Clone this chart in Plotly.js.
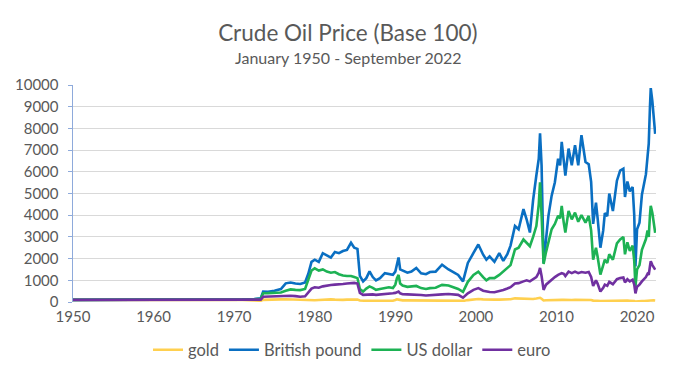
<!DOCTYPE html>
<html>
<head>
<meta charset="utf-8">
<script src="https://cdn.plot.ly/plotly-3.0.1.min.js"></script>
<style>html,body{margin:0;padding:0;background:#fff;}#chart{width:678px;height:367px;}</style>
</head>
<body>
<div id="chart"></div>
<script>
const years = [1950.0,1953.0,1957.0,1960.0,1965.0,1968.0,1971.0,1972.5,1973.3,1973.6,1974.2,1975.0,1975.8,1976.4,1977.0,1977.6,1978.2,1978.8,1979.2,1979.6,1980.0,1980.5,1981.0,1981.5,1982.0,1982.5,1983.0,1983.5,1984.0,1984.5,1984.9,1985.3,1985.6,1986.0,1986.4,1986.8,1987.2,1987.6,1988.1,1988.7,1989.2,1989.7,1990.0,1990.2,1990.4,1990.6,1990.9,1991.5,1992.0,1992.6,1993.2,1993.8,1994.3,1995.0,1995.8,1996.6,1997.2,1997.8,1998.4,1999.0,1999.7,2000.3,2000.9,2001.3,2001.7,2002.3,2002.9,2003.4,2003.9,2004.3,2004.85,2005.3,2005.9,2006.3,2006.7,2007.1,2007.5,2007.8,2007.96,2008.15,2008.4,2008.7,2009.0,2009.4,2009.8,2010.2,2010.45,2010.65,2010.9,2011.1,2011.5,2011.9,2012.3,2012.7,2013.1,2013.6,2014.0,2014.3,2014.55,2014.9,2015.1,2015.45,2015.8,2016.0,2016.3,2016.55,2017.0,2017.5,2017.9,2018.3,2018.5,2018.8,2019.1,2019.45,2019.65,2019.8,2020.0,2020.3,2020.6,2020.9,2021.1,2021.3,2021.45,2021.6,2021.7,2021.9,2022.05,2022.25];
const gold = [100,100,110,100,100,100,95,73,56,97,95,94,120,130,120,100,95,95,100,100,84,90,107,115,120,110,93,100,108,115,116,110,70,52,55,58,55,50,47,55,64,60,90,125,110,85,75,75,75,70,64,57,57,60,74,78,70,56,50,88,120,137,121,110,110,109,110,115,125,127,168,160,150,147,140,141,160,180,193,150,68,80,87,87,89,92,92,96,96,91,95,95,100,100,105,105,106,95,65,70,60,39,45,48,50,58,52,70,76,78,60,70,60,63,45,15,30,32,40,48,55,62,58,80,89,85,80,73];
const pound = [100,100,110,100,100,115,120,140,170,480,470,520,600,860,900,850,830,900,1300,1850,1950,1850,2250,2150,2050,2300,2250,2350,2400,2730,2500,2450,1200,950,1100,1410,1150,1000,1100,1330,1280,1250,1400,1800,2050,1500,1450,1350,1400,1570,1320,1280,1380,1400,1720,1500,1380,1250,950,1800,2260,2650,2180,1950,2100,1850,2250,1900,2200,2600,3500,3350,4280,3800,3200,4700,5830,6600,7770,6300,1800,3000,3970,4900,5520,6600,6300,7380,6300,5830,7070,6300,7230,6300,7690,6450,6350,5540,3600,4580,3880,2500,3300,4100,3960,5000,4190,5590,6050,6140,4840,5550,5100,5300,4000,1640,3350,3650,4940,5480,5890,6700,7300,9000,9860,9240,8500,7750];
const dollar = [100,100,110,100,100,100,110,125,150,405,410,430,440,520,580,560,550,600,1000,1450,1550,1450,1500,1400,1350,1380,1280,1220,1200,1200,1150,1100,600,480,620,720,650,560,600,640,680,640,800,1100,1250,850,760,700,720,740,640,600,640,660,790,760,680,600,470,930,1250,1400,1150,1000,1100,1100,1250,1400,1550,1700,2420,2500,2880,2700,2570,3000,3500,4500,5520,4000,1750,2300,2730,3350,3600,3970,3850,4430,3660,3200,4200,3810,4120,3700,4000,3660,3970,3300,1950,2500,2100,1260,1700,1950,1800,2200,1950,2700,2880,3000,2200,2750,2350,2600,1900,710,1500,1700,2400,2700,2900,3300,3000,4000,4430,4100,3660,3190];
const euro = [100,100,110,100,95,92,90,95,110,240,250,240,250,280,290,270,240,260,450,620,680,660,720,760,780,800,800,830,850,880,880,850,420,330,340,360,350,330,340,370,380,400,420,460,480,400,360,350,340,360,320,300,320,320,350,370,360,330,200,400,560,640,520,480,460,450,500,550,620,680,850,870,950,1000,950,1050,1150,1350,1570,1200,560,800,900,1020,1150,1250,1280,1330,1300,1200,1400,1330,1400,1330,1380,1350,1380,1150,740,1000,850,480,650,800,750,930,820,1050,1100,1130,900,1050,950,1030,800,400,700,800,950,1050,1150,1300,1250,1650,1880,1700,1600,1490];
const seriesNames = ['gold','British pound','US dollar','euro'];
const seriesColors = ['#FFD04F','#0A6FC2','#1DB254','#7030A0'];
const tickYears = [1950,1960,1970,1980,1990,2000,2010,2020];

const font = 'Lato, "Open Sans", sans-serif';
const grey = '#595959';
const vals = [gold, pound, dollar, euro];
const traces = vals.map((v,i)=>({
  x: years, y: v, type:'scatter', mode:'lines', name: seriesNames[i],
  line:{color: seriesColors[i], width:2.6}, hoverinfo:'skip'
}));
const layout = {
  width:678, height:367,
  margin:{l:73, r:22, t:85, b:65, autoexpand:false},
  paper_bgcolor:'#fff', plot_bgcolor:'#fff',
  font:{family:font, color:grey, size:15},
  title:{text:'Crude Oil Price (Base 100)', x:0.513, xanchor:'center', y:1-33.5/367, yanchor:'middle',
         font:{family:font, size:22.5, color:grey}},
  annotations:[{text:'January 1950 - September 2022', xref:'paper', yref:'paper',
    x:(348-73)/583, y:(302-57.5)/217, xanchor:'center', yanchor:'middle', showarrow:false,
    font:{family:font, size:16, color:grey}}],
  xaxis:{range:[1950,2022.35], tickvals:tickYears, ticktext:tickYears.map(String),
    showgrid:false, zeroline:false, showline:false, ticks:'', ticklabelstandoff:4,
    tickfont:{size:15, color:grey}},
  yaxis:{range:[0,10000], dtick:1000, tickformat:'d', showgrid:true, gridcolor:'#d9d9d9', gridwidth:1,
    zeroline:false, showline:true, linecolor:'#8eaadb', linewidth:1.5, ticks:'outside',
    ticklen:4, tickcolor:'#8eaadb', ticklabelstandoff:6, tickfont:{size:15, color:grey}},
  showlegend:true,
  legend:{orientation:'h', x:(352-73)/583, xanchor:'center', y:(302-350)/217, yanchor:'middle',
    font:{size:16.5, color:grey}, itemwidth:30, traceorder:'normal'}
};
Plotly.newPlot('chart', traces, layout, {staticPlot:true, displayModeBar:false});
</script>
</body>
</html>
